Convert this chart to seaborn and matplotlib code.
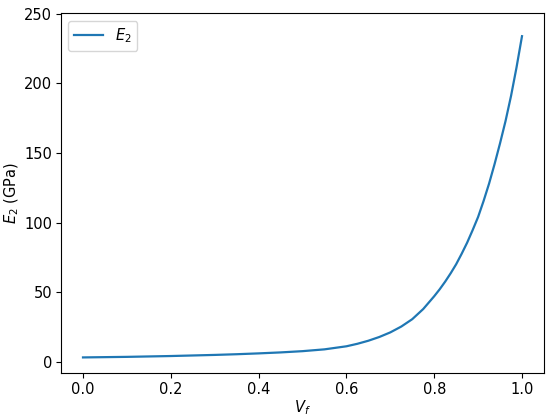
import matplotlib
matplotlib.use("Agg")
import matplotlib.pyplot as plt
import seaborn as sns
import pandas as pd

vf = [0.0, 0.05, 0.1, 0.15, 0.2, 0.25, 0.3, 0.35, 0.4, 0.45, 0.5, 0.55, 0.6,
      0.625, 0.65, 0.675, 0.7, 0.725, 0.75, 0.775, 0.8, 0.8125, 0.825, 0.8375,
      0.85, 0.8625, 0.875, 0.8875, 0.9, 0.9125, 0.925, 0.9375, 0.95, 0.9625,
      0.975, 0.9875, 1.0]
e2 = [3.0, 3.2, 3.4, 3.7, 4.0, 4.4, 4.8, 5.3, 5.9, 6.6, 7.5, 8.8, 11.0,
      12.8, 15.0, 17.7, 21.0, 25.2, 30.5, 37.8, 47.0, 52.0, 57.5, 63.5,
      70.0, 77.5, 85.5, 94.5, 104.0, 115.5, 128.0, 142.0, 157.0, 173.0,
      191.0, 211.5, 234.0]

df = pd.DataFrame({"Vf": vf, "E2": e2})

fig = plt.figure(figsize=(5.5, 4.18), dpi=100)
ax = fig.add_axes([0.111, 0.107, 0.878, 0.861])
sns.lineplot(data=df, x="Vf", y="E2", ax=ax, color="#1f77b4", linewidth=1.6,
             label="$E_2$")
ax.set_xlim(-0.05, 1.05)
ax.set_ylim(-8.4, 250.4)
ax.set_xlabel("$V_f$", fontsize=10.5, labelpad=1)
ax.set_ylabel("$E_2$ (GPa)", fontsize=10.5, labelpad=2)
ax.tick_params(labelsize=10.5, pad=3)
ax.legend(loc="upper left", fontsize=10.5)
fig.savefig("out.png", dpi=100)
